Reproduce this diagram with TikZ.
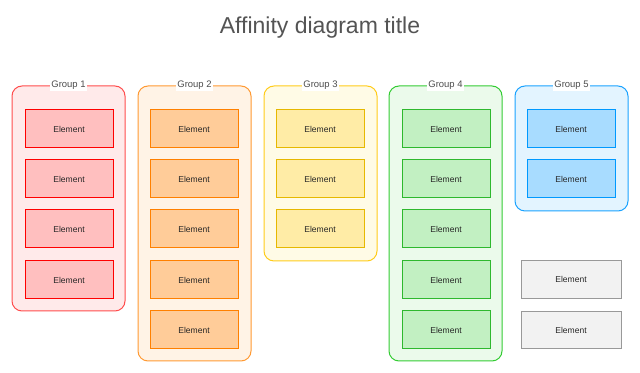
\documentclass[tikz,border=0pt]{standalone}
\usepackage{fontspec}
\setmainfont{Liberation Sans}

\definecolor{redline}{HTML}{FF4D4D}   \definecolor{redback}{HTML}{FFEAEA}
\definecolor{redelem}{HTML}{FFBFBF}   \definecolor{rededge}{HTML}{FF0000}
\definecolor{orgline}{HTML}{FF9A33}   \definecolor{orgback}{HTML}{FFF3E6}
\definecolor{orgelem}{HTML}{FFCC99}   \definecolor{orgedge}{HTML}{FF8000}
\definecolor{yelline}{HTML}{FFCC1A}   \definecolor{yelback}{HTML}{FFFBE6}
\definecolor{yelelem}{HTML}{FFECA6}   \definecolor{yeledge}{HTML}{E6B800}
\definecolor{grnline}{HTML}{33CC33}   \definecolor{grnback}{HTML}{EBFAEB}
\definecolor{grnelem}{HTML}{C2F0C2}   \definecolor{grnedge}{HTML}{2EB82E}
\definecolor{bluline}{HTML}{1AA3FF}   \definecolor{bluback}{HTML}{E3F4FF}
\definecolor{bluelem}{HTML}{A8DCFF}   \definecolor{bluedge}{HTML}{0099FF}
\definecolor{gryelem}{HTML}{F2F2F2}   \definecolor{gryedge}{HTML}{999999}

\begin{document}
\begin{tikzpicture}[x=0.75pt, y=-0.75pt,
  group/.style={draw, rounded corners=7.5pt, line width=0.75pt, minimum width=84.75pt},
  elem/.style={draw, line width=0.75pt, minimum width=66pt, minimum height=28.5pt,
    font=\fontsize{6.4}{7}\selectfont, text=black!85},
  glabel/.style={fill=white, inner sep=1pt, font=\fontsize{7.1}{8}\selectfont, text=black!70}]
  \fill[white] (0,0) rectangle (640,373);
  \useasboundingbox (0,0) rectangle (640,373);

  \node[font=\fontsize{17.25}{20}\selectfont, text=black!67] (title) at (320,28) {Affinity diagram title};

  % group boxes
  \node[group, draw=redline, fill=redback, minimum height=168.75pt] (g1) at (68.5,198.5) {};
  \node[group, draw=orgline, fill=orgback, minimum height=206.25pt] (g2) at (194.5,223.5) {};
  \node[group, draw=yelline, fill=yelback, minimum height=131.25pt] (g3) at (320.5,173.5) {};
  \node[group, draw=grnline, fill=grnback, minimum height=206.25pt] (g4) at (445.5,223.5) {};
  \node[group, draw=bluline, fill=bluback, minimum height=93.75pt] (g5) at (571.5,148.5) {};

  \node[glabel] (l1) at (g1.north) {Group 1};
  \node[glabel] (l2) at (g2.north) {Group 2};
  \node[glabel] (l3) at (g3.north) {Group 3};
  \node[glabel] (l4) at (g4.north) {Group 4};
  \node[glabel] (l5) at (g5.north) {Group 5};

  % elements
  \foreach \i/\y in {1/129, 2/179, 3/229, 4/280}
    \node[elem, draw=rededge, fill=redelem] (e1\i) at (69,\y) {Element};
  \foreach \i/\y in {1/129, 2/179, 3/229, 4/280, 5/330}
    \node[elem, draw=orgedge, fill=orgelem] (e2\i) at (194,\y) {Element};
  \foreach \i/\y in {1/129, 2/179, 3/229}
    \node[elem, draw=yeledge, fill=yelelem] (e3\i) at (320,\y) {Element};
  \foreach \i/\y in {1/129, 2/179, 3/229, 4/280, 5/330}
    \node[elem, draw=grnedge, fill=grnelem] (e4\i) at (446,\y) {Element};
  \foreach \i/\y in {1/129, 2/179}
    \node[elem, draw=bluedge, fill=bluelem] (e5\i) at (571,\y) {Element};

  % ungrouped
  \node[elem, draw=gryedge, fill=gryelem, minimum width=75pt, minimum height=28pt] (u1) at (571,279.5) {Element};
  \node[elem, draw=gryedge, fill=gryelem, minimum width=75pt, minimum height=28pt] (u2) at (571,330) {Element};
\end{tikzpicture}
\end{document}
